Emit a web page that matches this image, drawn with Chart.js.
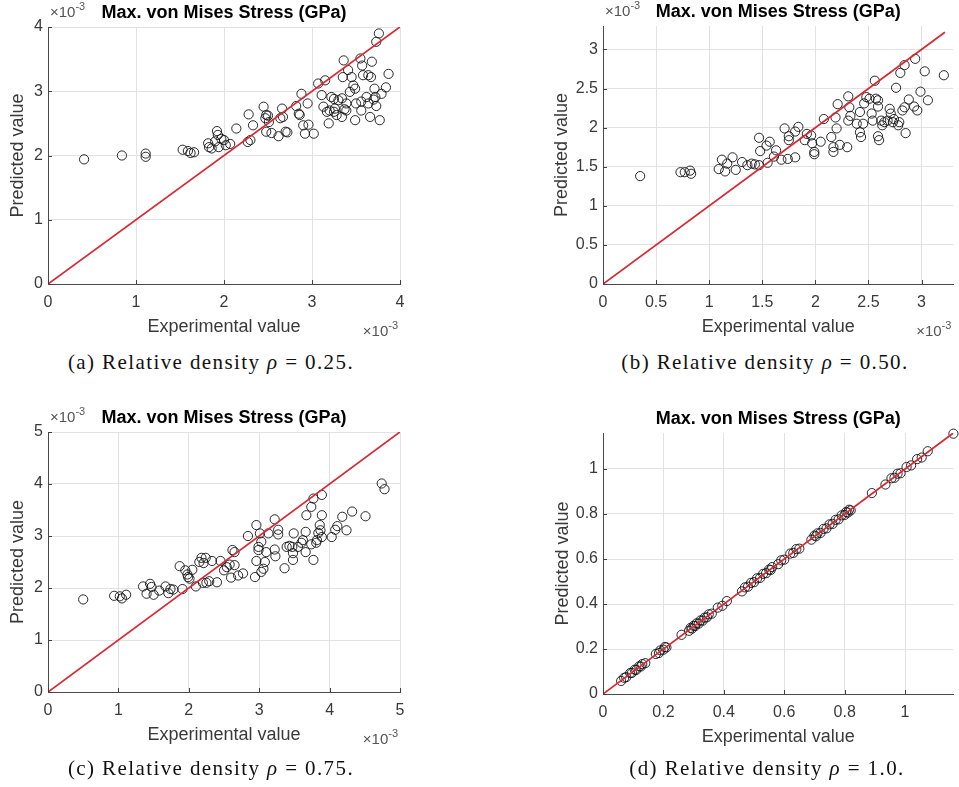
<!DOCTYPE html>
<html>
<head>
<meta charset="utf-8">
<script src="https://cdn.jsdelivr.net/npm/chart.js@4.4.1/dist/chart.umd.min.js"></script>
<style>
body { margin:0; background:#fff; }
#page { position:relative; width:959px; height:787px; overflow:hidden; background:#fff; }
canvas { position:absolute; }
.cap { position:absolute; font-family:"Liberation Serif", serif; font-size:21px; color:#111; white-space:nowrap; transform:translateX(-50%); letter-spacing:1.4px; }
</style>
</head>
<body>
<div id="page">
  <canvas id="cA" width="480" height="340" style="left:0;top:0"></canvas>
  <canvas id="cB" width="479" height="340" style="left:480px;top:0"></canvas>
  <canvas id="cC" width="480" height="397" style="left:0;top:390px"></canvas>
  <canvas id="cD" width="479" height="397" style="left:480px;top:390px"></canvas>
  <div class="cap" style="left:211px;top:350px">(a) Relative density <i>ρ</i> = 0.25.</div>
  <div class="cap" style="left:765px;top:350px">(b) Relative density <i>ρ</i> = 0.50.</div>
  <div class="cap" style="left:211px;top:756px">(c) Relative density <i>ρ</i> = 0.75.</div>
  <div class="cap" style="left:767px;top:756px">(d) Relative density <i>ρ</i> = 1.0.</div>
</div>
<script>
// values in units of 1e-3 GPa for (a)-(c), GPa for (d)
const ticksA = [0, 1, 2, 3, 4];
const expA = [0.41,0.84,1.11,1.11,1.53,1.59,1.62,1.66,1.82,1.83,1.86,1.92,1.93,1.94,1.90,1.97,2.00,2.02,2.07,2.14,2.28,2.27,2.30,2.33,2.45,2.48,2.47,2.51,2.48,2.54,2.62,2.64,2.66,2.67,2.72,2.70,2.82,2.86,2.88,2.90,2.92,2.95,2.96,3.02,3.07,3.11,3.15,3.13,3.17,3.19,3.22,3.25,3.26,3.28,3.34,3.34,3.36,3.35,3.39,3.41,3.43,3.45,3.47,3.49,3.49,3.50,3.39,3.55,3.57,3.58,3.56,3.62,3.64,3.64,3.66,3.68,3.67,3.71,3.72,3.73,3.73,3.76,3.77,3.79,3.84,3.87,3.30,3.25,3.37,3.56,3.70,2.85,2.50,3.20];
const predA = [1.94,2.00,2.03,1.98,2.09,2.07,2.04,2.05,2.19,2.13,2.11,2.38,2.32,2.13,2.22,2.26,2.24,2.16,2.18,2.42,2.64,2.21,2.24,2.47,2.76,2.63,2.58,2.52,2.37,2.35,2.30,2.58,2.73,2.60,2.36,2.37,2.77,2.63,2.96,2.47,2.34,2.81,2.48,2.34,3.12,2.94,3.17,2.76,2.68,2.50,2.91,2.88,2.73,2.63,2.89,2.60,3.48,3.22,2.81,3.33,2.99,3.22,3.09,3.04,2.55,2.81,2.70,3.51,3.40,3.25,2.70,2.91,3.25,2.81,2.60,3.46,3.22,3.04,2.91,2.77,3.77,3.90,2.55,2.96,3.06,3.27,2.86,2.68,2.72,2.84,2.87,2.65,2.62,2.70];

const ticksB = [0, 0.5, 1, 1.5, 2, 2.5, 3];
const expB = [0.35,0.73,0.77,0.83,0.82,1.09,1.12,1.15,1.17,1.22,1.25,1.31,1.36,1.40,1.43,1.47,1.47,1.48,1.54,1.55,1.57,1.61,1.63,1.68,1.71,1.74,1.75,1.75,1.81,1.81,1.84,1.90,1.92,1.96,1.97,1.99,1.99,2.05,2.08,2.15,2.17,2.17,2.20,2.19,2.21,2.23,2.30,2.31,2.32,2.33,2.31,2.39,2.42,2.42,2.43,2.45,2.46,2.48,2.51,2.53,2.54,2.56,2.57,2.59,2.59,2.59,2.60,2.62,2.63,2.65,2.68,2.70,2.71,2.73,2.74,2.76,2.78,2.79,2.80,2.82,2.84,2.84,2.85,2.88,2.93,2.94,2.96,2.99,3.03,3.06,3.21];
const predB = [1.38,1.43,1.43,1.41,1.45,1.47,1.59,1.44,1.54,1.62,1.46,1.56,1.52,1.54,1.53,1.52,1.87,1.70,1.77,1.55,1.82,1.63,1.71,1.59,1.99,1.60,1.89,1.84,1.62,1.95,2.01,1.84,1.92,1.90,1.80,1.69,1.66,1.82,2.11,1.88,1.69,1.75,1.99,2.13,2.30,1.78,1.75,2.40,2.26,2.15,2.09,2.05,2.20,1.94,1.88,2.05,2.31,2.39,2.37,2.18,2.09,2.60,2.37,2.35,2.27,1.89,1.84,2.09,2.03,2.07,2.09,2.24,2.18,2.07,2.11,2.51,2.03,2.07,2.70,2.22,2.80,2.26,1.93,2.36,2.27,2.88,2.22,2.46,2.72,2.35,2.67];

const ticksC = [0, 1, 2, 3, 4, 5];
const expC = [0.50,0.94,1.02,1.05,1.11,1.35,1.40,1.45,1.47,1.50,1.58,1.67,1.71,1.74,1.78,1.87,1.91,1.95,1.98,1.99,2.01,2.05,2.10,2.15,2.18,2.21,2.24,2.20,2.25,2.29,2.33,2.40,2.45,2.50,2.54,2.58,2.60,2.62,2.65,2.65,2.70,2.77,2.84,2.94,2.96,2.96,2.99,2.99,3.01,3.03,3.03,3.06,3.08,3.10,3.13,3.22,3.22,3.23,3.27,3.27,3.36,3.39,3.43,3.47,3.48,3.48,3.49,3.55,3.60,3.62,3.66,3.66,3.67,3.74,3.74,3.77,3.77,3.81,3.82,3.84,3.86,3.87,3.89,3.89,3.89,4.03,4.08,4.11,4.18,4.24,4.32,4.51,4.74,4.78];
const predC = [1.78,1.85,1.84,1.80,1.87,2.03,1.89,2.08,2.02,1.87,1.95,2.03,1.90,1.98,1.97,2.42,1.98,2.34,2.26,2.21,2.18,2.35,2.03,2.50,2.58,2.48,2.58,2.10,2.10,2.13,2.52,2.11,2.52,2.34,2.40,2.45,2.20,2.73,2.69,2.44,2.24,2.28,3.00,2.21,3.21,2.52,2.79,2.73,3.05,2.89,2.31,2.37,2.50,2.69,3.05,3.32,2.74,2.61,3.12,3.03,2.38,2.79,2.81,2.79,2.67,2.54,3.05,2.79,2.87,2.92,3.08,2.69,3.40,2.84,3.56,2.54,3.72,2.87,2.92,3.06,3.21,3.11,2.98,3.79,3.40,2.98,3.12,3.19,3.37,3.11,3.47,3.38,4.01,3.90];

const ticksD = [0, 0.2, 0.4, 0.6, 0.8, 1];
const expD = [0.060,0.070,0.077,0.090,0.096,0.105,0.110,0.120,0.125,0.130,0.140,0.175,0.185,0.190,0.200,0.205,0.210,0.260,0.285,0.290,0.295,0.300,0.305,0.310,0.317,0.323,0.330,0.336,0.344,0.350,0.360,0.380,0.395,0.410,0.460,0.470,0.480,0.490,0.500,0.510,0.520,0.530,0.540,0.550,0.555,0.560,0.580,0.590,0.600,0.620,0.630,0.640,0.650,0.690,0.700,0.705,0.710,0.720,0.730,0.740,0.750,0.760,0.770,0.780,0.790,0.800,0.805,0.810,0.815,0.820,0.890,0.935,0.955,0.965,0.975,0.985,1.005,1.020,1.040,1.055,1.075,1.160];
const predD = [0.058,0.072,0.075,0.093,0.094,0.108,0.107,0.123,0.122,0.133,0.137,0.178,0.182,0.194,0.197,0.209,0.207,0.263,0.281,0.294,0.291,0.303,0.302,0.314,0.313,0.327,0.326,0.339,0.341,0.354,0.357,0.384,0.392,0.413,0.456,0.474,0.477,0.494,0.497,0.514,0.516,0.534,0.537,0.553,0.551,0.564,0.577,0.594,0.597,0.624,0.627,0.644,0.646,0.686,0.704,0.701,0.714,0.716,0.734,0.736,0.754,0.756,0.774,0.776,0.794,0.796,0.809,0.806,0.819,0.816,0.893,0.931,0.959,0.961,0.979,0.981,1.009,1.016,1.044,1.051,1.079,1.157];

const title = 'Max. von Mises Stress (GPa)';
const FONT = '"Liberation Sans", Arial, sans-serif';
const TXT = '#3a3a3a';

function drawExp(ctx, x, y, alignRight) {
  ctx.font = '15px ' + FONT;
  const w1 = ctx.measureText('\u00d710').width;
  ctx.font = '11px ' + FONT;
  const w2 = ctx.measureText('-3').width;
  const x0 = alignRight ? x - w1 - w2 : x;
  ctx.fillStyle = '#555';
  ctx.textAlign = 'left';
  ctx.textBaseline = 'alphabetic';
  ctx.font = '15px ' + FONT;
  ctx.fillText('\u00d710', x0, y);
  ctx.font = '11px ' + FONT;
  ctx.fillText('-3', x0 + w1, y - 7);
}

const decor = {
  id: 'decor',
  afterDraw(chart, args, opts) {
    const {ctx, chartArea: a, scales} = chart;
    ctx.save();
    ctx.strokeStyle = '#404040';
    ctx.lineWidth = 1;
    ctx.beginPath();
    scales.x.ticks.forEach(t => {
      const px = Math.round(scales.x.getPixelForValue(t.value)) + 0.5;
      ctx.moveTo(px, a.bottom); ctx.lineTo(px, a.bottom - 4);
    });
    scales.y.ticks.forEach(t => {
      const py = Math.round(scales.y.getPixelForValue(t.value)) + 0.5;
      ctx.moveTo(a.left, py); ctx.lineTo(a.left + 4, py);
    });
    ctx.stroke();
    ctx.fillStyle = '#000';
    ctx.font = 'bold 18px ' + FONT;
    ctx.textAlign = 'center';
    ctx.textBaseline = 'middle';
    ctx.fillText(title, (a.left + a.right) / 2, a.top - 14);
    if (opts.exp) {
      drawExp(ctx, a.left + 2, a.top - 10, false);
      drawExp(ctx, a.right - 2, a.bottom + 52, true);
    }
    ctx.restore();
  }
};

function makeChart(id, xs, ys, ticks, lim, lineEnd, g, exp) {
  const pts = xs.map((x, i) => ({x: x, y: ys[i]}));
  const ref = [{x: 0, y: 0}, {x: lineEnd, y: lineEnd}];
  const axis = (pos, pad, extra) => Object.assign({
    type: 'linear', position: pos, min: 0, max: lim,
    afterBuildTicks: s => { s.ticks = ticks.map(v => ({value: v})); },
    grid: {color: '#e2e2e2', drawTicks: false},
    border: {display: true, color: '#4a4a4a', width: 1},
    ticks: {color: TXT, padding: pad, font: {family: FONT, size: 16}, callback: v => String(v)},
  }, extra);
  return new Chart(document.getElementById(id), {
    type: 'scatter',
    data: {
      datasets: [
        {type: 'line', data: ref, borderColor: '#d82a35', borderWidth: 1.8, pointRadius: 0, fill: false},
        {data: pts, showLine: false, pointStyle: 'circle', pointRadius: 4.6, borderWidth: 1,
         borderColor: 'rgba(20,20,20,0.9)', backgroundColor: 'rgba(0,0,0,0)', clip: 6}
      ]
    },
    options: {
      responsive: false,
      animation: false,
      devicePixelRatio: 1,
      layout: {padding: {left: g.pl, right: g.pr, top: g.pt, bottom: g.pb}},
      plugins: {legend: {display: false}, tooltip: {enabled: false}, decor: {exp: exp}},
      scales: {
        x: axis('bottom', 9, {
          afterFit: s => { s.height = 54; },
          title: {display: true, text: 'Experimental value', color: TXT, font: {family: FONT, size: 18}, padding: {top: 0, bottom: 0}},
        }),
        y: axis('left', 5, {
          afterFit: s => { s.width = g.yw; },
          title: {display: true, text: 'Predicted value', color: TXT, font: {family: FONT, size: 18}, padding: {top: 0, bottom: 0}},
        })
      }
    },
    plugins: [decor]
  });
}

makeChart('cA', expA, predA, ticksA, 4, 4, {pl: 7, yw: 41, pr: 80, pt: 27, pb: 2}, true);
makeChart('cB', expB, predB, ticksB, 3.3, 3.22, {pl: 71, yw: 52, pr: 3, pt: 26, pb: 2}, true);
makeChart('cC', expC, predC, ticksC, 5, 5, {pl: 7, yw: 41, pr: 80, pt: 42, pb: 41}, true);
makeChart('cD', expD, predD, ticksD, 1.16, 1.16, {pl: 72, yw: 51, pr: 3, pt: 43, pb: 39}, false);
</script>
</body>
</html>
